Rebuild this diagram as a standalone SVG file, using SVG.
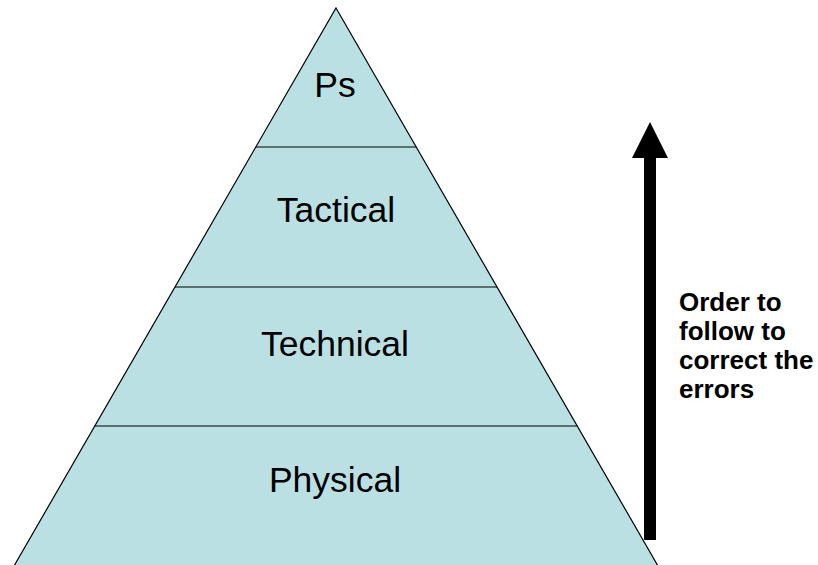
<svg xmlns="http://www.w3.org/2000/svg" width="818" height="565" viewBox="0 0 818 565">
  <style>
    .tier { fill: #BBE0E3; stroke: #000; stroke-width: 1.2; stroke-linejoin: miter; }
    .divider { stroke: #000; stroke-width: 1.2; fill: none; }
    .label { font-family: "Liberation Sans", Arial, sans-serif; font-size: 35.5px; fill: #000; text-anchor: middle; }
    .note { font-family: "Liberation Sans", Arial, sans-serif; font-size: 26px; font-weight: bold; fill: #000; }
  </style>
  <rect width="818" height="565" fill="#fff"/>

  <!-- pyramid body -->
  <g id="pyramid">
    <polygon class="tier" points="336,8 658,566 14,566"/>
  </g>

  <!-- tier boundaries -->
  <g id="connectors">
    <line class="divider" x1="255.6" y1="147" x2="416.4" y2="147"/>
    <line class="divider" x1="174.9" y1="287" x2="497.1" y2="287"/>
    <line class="divider" x1="94.7" y1="426" x2="577.3" y2="426"/>
  </g>

  <g id="tier-ps"><text class="label" x="335" y="97">Ps</text></g>
  <g id="tier-tactical"><text class="label" x="336" y="222">Tactical</text></g>
  <g id="tier-technical"><text class="label" x="335" y="356">Technical</text></g>
  <g id="tier-physical"><text class="label" x="335" y="492">Physical</text></g>

  <!-- upward arrow -->
  <g id="order-arrow">
    <rect x="644" y="156" width="12" height="384" fill="#000"/>
    <polygon points="650,122 668,158 632,158" fill="#000"/>
  </g>

  <g id="order-note">
    <text class="note" x="679" y="311">Order to</text>
    <text class="note" x="679" y="340">follow to</text>
    <text class="note" x="679" y="369">correct the</text>
    <text class="note" x="679" y="398">errors</text>
  </g>
</svg>
